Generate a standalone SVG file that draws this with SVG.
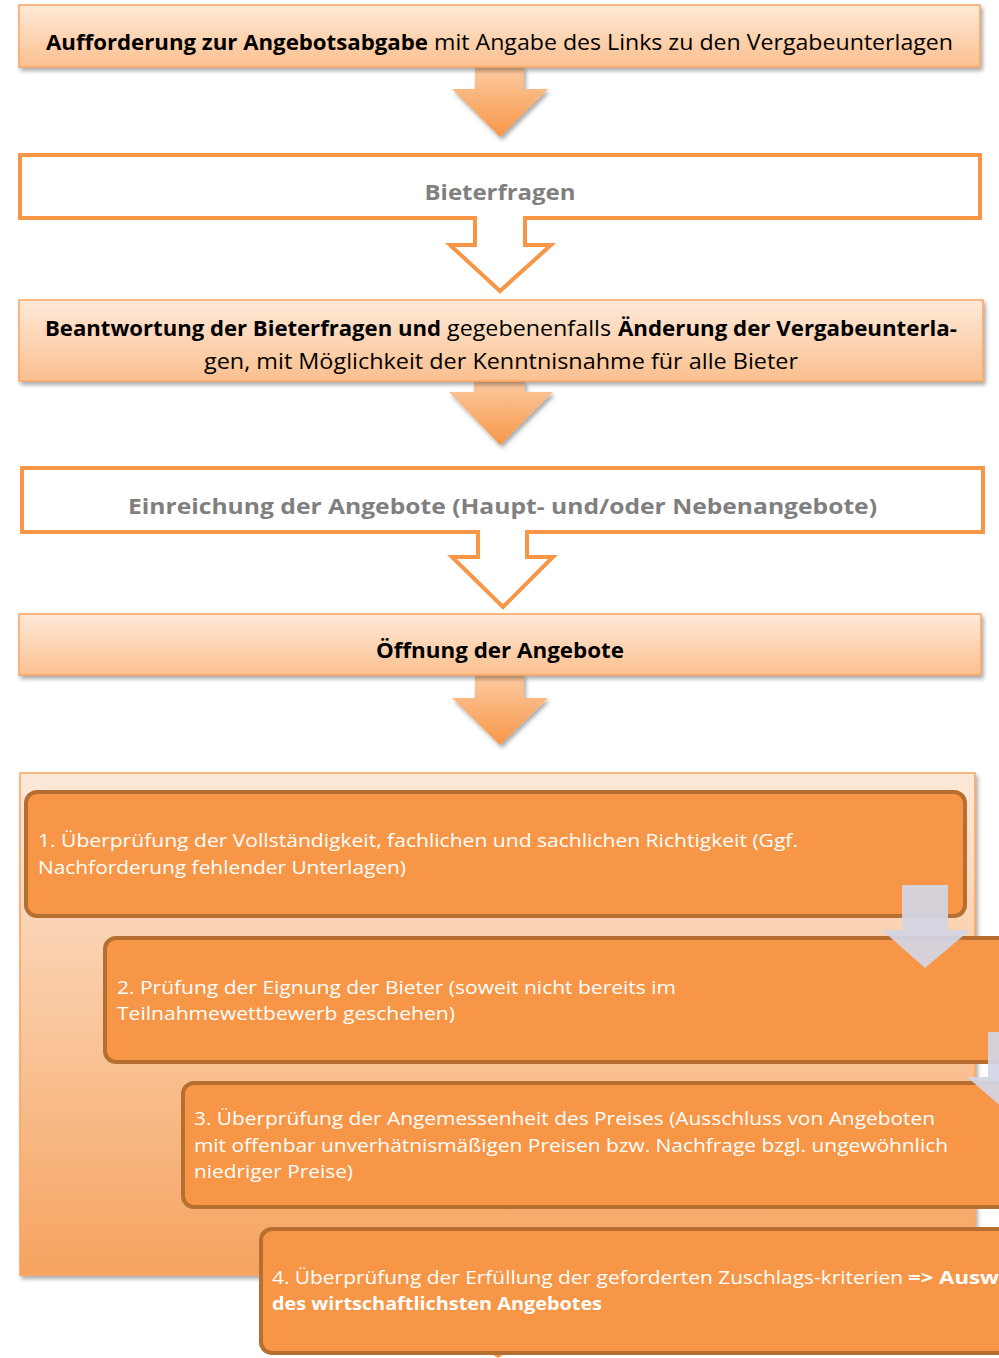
<svg xmlns="http://www.w3.org/2000/svg" width="999" height="1358" viewBox="0 0 999 1358">
<defs>
<linearGradient id="gBox" x1="0" y1="0" x2="0" y2="1"><stop offset="0" stop-color="#fee9d8"/><stop offset="1" stop-color="#fbc08f"/></linearGradient>
<linearGradient id="gArrow" x1="0" y1="0" x2="0" y2="1"><stop offset="0" stop-color="#fccaa1"/><stop offset="1" stop-color="#f79646"/></linearGradient>
<linearGradient id="gCont" x1="0" y1="0" x2="0" y2="1"><stop offset="0" stop-color="#fde9d9"/><stop offset="1" stop-color="#f6a35f"/></linearGradient>
<filter id="sh" x="-5%" y="-20%" width="110%" height="150%"><feDropShadow dx="2" dy="3" stdDeviation="2" flood-color="#000" flood-opacity="0.35"/></filter>
<filter id="sh2" x="-5%" y="-5%" width="110%" height="110%"><feDropShadow dx="2" dy="3" stdDeviation="2" flood-color="#000" flood-opacity="0.35"/></filter>
<style>
.t{font-family:"Open Sans","Liberation Sans",sans-serif;font-size:21px;fill:#000}
.b{font-weight:bold}
.g{fill:#7f7f7f;font-weight:bold;font-size:22px}
.w{font-family:"Open Sans","Liberation Sans",sans-serif;font-size:18.5px;fill:#fff}
.gb{fill:url(#gBox);stroke:#f8a462;stroke-width:1.5;filter:url(#sh)}
.ob{fill:#fff;stroke:#f79646;stroke-width:4;stroke-linejoin:miter}
.fa{fill:url(#gArrow);filter:url(#sh)}
.ib{fill:#f79646;stroke:#b66f31;stroke-width:4}
.ga{fill:#d3d6e6;opacity:0.92}
</style>
</defs>

<g id="connectors">
<path class="fa" d="M475,67 H524 V89 H548 L500,137 L452,89 H475 Z"/>
<path class="fa" d="M474,381 H525 V392 H553 L500,445 L449,392 H474 Z"/>
<path class="fa" d="M475,675 H524 V698 H548 L500,745 L452,698 H475 Z"/>
</g>

<g id="n1">
<rect class="gb" x="19" y="5" width="961" height="62"/>
<text class="t b" x="46" y="50" textLength="382" lengthAdjust="spacingAndGlyphs">Aufforderung zur Angebotsabgabe</text>
<text class="t" x="434" y="50" textLength="519" lengthAdjust="spacingAndGlyphs">mit Angabe des Links zu den Vergabeunterlagen</text>
</g>

<g id="n2">
<path class="ob" d="M20,155 H980 V218 H525 V245 H551 L500,291 L450,245 H475 V218 H20 Z"/>
<text class="t g" x="500" y="200" text-anchor="middle" textLength="151" lengthAdjust="spacingAndGlyphs">Bieterfragen</text>
</g>

<g id="n3">
<rect class="gb" x="19" y="300" width="964" height="81"/>
<text class="t b" x="45" y="336" textLength="396" lengthAdjust="spacingAndGlyphs">Beantwortung der Bieterfragen und</text>
<text class="t" x="447" y="336" textLength="164" lengthAdjust="spacingAndGlyphs">gegebenenfalls</text>
<text class="t b" x="618" y="336" textLength="339" lengthAdjust="spacingAndGlyphs">Änderung der Vergabeunterla-</text>
<text class="t" x="204" y="369" textLength="594" lengthAdjust="spacingAndGlyphs">gen, mit Möglichkeit der Kenntnisnahme für alle Bieter</text>
</g>

<g id="n4">
<path class="ob" d="M22,468 H983 V532 H527 V557 H553 L503,607 L452,557 H478 V532 H22 Z"/>
<text class="t g" x="128" y="514" textLength="749" lengthAdjust="spacingAndGlyphs">Einreichung der Angebote (Haupt- und/oder Nebenangebote)</text>
</g>

<g id="n5">
<rect class="gb" x="19" y="614" width="962" height="61"/>
<text class="t b" x="500" y="658" text-anchor="middle" textLength="248" lengthAdjust="spacingAndGlyphs">Öffnung der Angebote</text>
</g>

<g id="n6">
<rect x="20" y="773" width="955" height="502" fill="url(#gCont)" stroke="#f8a462" stroke-width="1.5" filter="url(#sh2)"/>
<path d="M490,1353 L506,1353 L498,1358 Z" fill="#f79646"/>
</g>

<g id="s1">
<rect class="ib" x="26" y="792" width="939" height="124" rx="11"/>
<text class="w" x="38" y="847" textLength="760" lengthAdjust="spacingAndGlyphs">1. Überprüfung der Vollständigkeit, fachlichen und sachlichen Richtigkeit (Ggf.</text>
<text class="w" x="38" y="874" textLength="368" lengthAdjust="spacingAndGlyphs">Nachforderung fehlender Unterlagen)</text>
</g>

<g id="s2">
<rect class="ib" x="105" y="938" width="920" height="124" rx="11"/>
<text class="w" x="117" y="994" textLength="559" lengthAdjust="spacingAndGlyphs">2. Prüfung der Eignung der Bieter (soweit nicht bereits im</text>
<text class="w" x="117" y="1020" textLength="338" lengthAdjust="spacingAndGlyphs">Teilnahmewettbewerb geschehen)</text>
</g>

<g id="s3">
<rect class="ib" x="183" y="1083" width="840" height="124" rx="11"/>
<text class="w" x="194" y="1125" textLength="741" lengthAdjust="spacingAndGlyphs">3. Überprüfung der Angemessenheit des Preises (Ausschluss von Angeboten</text>
<text class="w" x="194" y="1152" textLength="754" lengthAdjust="spacingAndGlyphs">mit offenbar unverhätnismäßigen Preisen bzw. Nachfrage bzgl. ungewöhnlich</text>
<text class="w" x="194" y="1178" textLength="159" lengthAdjust="spacingAndGlyphs">niedriger Preise)</text>
</g>

<g id="s4">
<rect class="ib" x="261" y="1229" width="780" height="124" rx="11"/>
<text class="w" x="272" y="1284" textLength="631" lengthAdjust="spacingAndGlyphs">4. Überprüfung der Erfüllung der geforderten Zuschlags-kriterien</text>
<text class="w b" x="908" y="1284" textLength="91" lengthAdjust="spacingAndGlyphs">=&gt; Ausw</text>
<text class="w b" x="272" y="1310" textLength="330" lengthAdjust="spacingAndGlyphs">des wirtschaftlichsten Angebotes</text>
</g>

<g id="gray-connectors">
<path class="ga" d="M902,885 H948 V930 H970 L925,968 L882,930 H902 Z"/>
<path class="ga" d="M988,1032 H1034 V1077 H1054 L1011,1115 L967,1077 H988 Z"/>
</g>
</svg>
